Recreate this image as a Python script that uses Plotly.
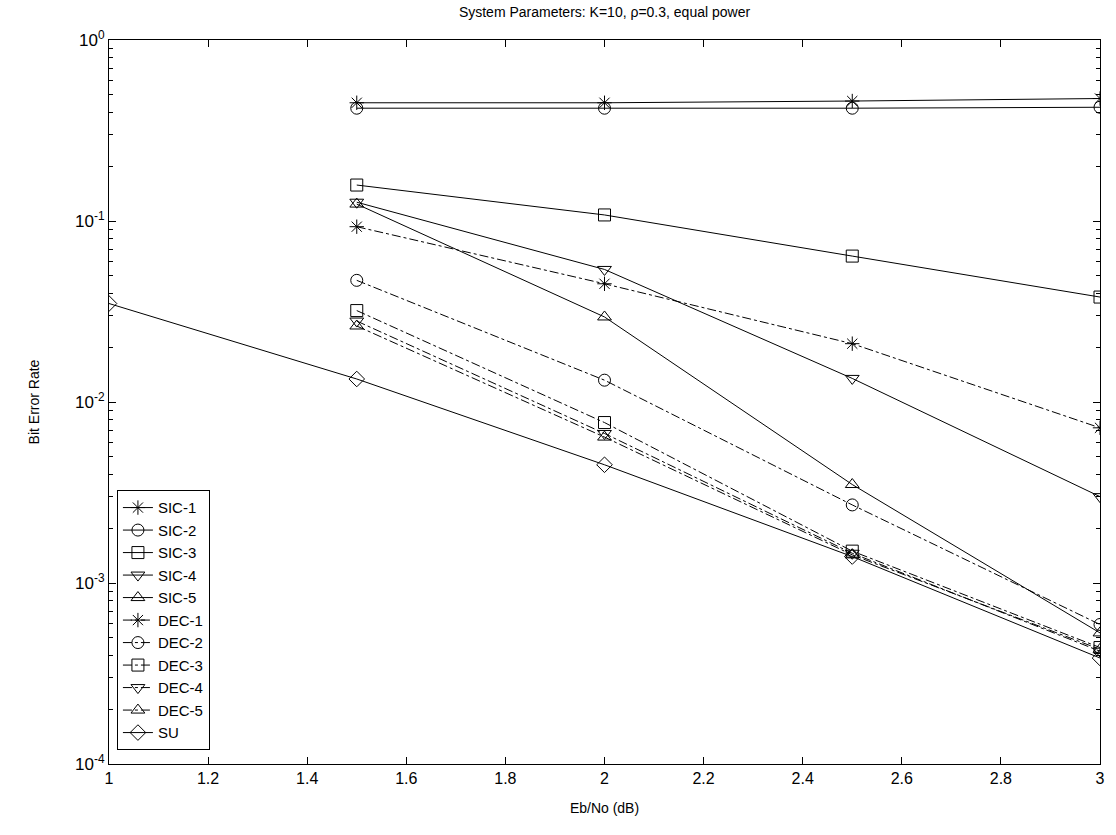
import plotly.graph_objects as go

x = [1.5, 2, 2.5, 3]
sic1 = [0.45, 0.45, 0.46, 0.475]
sic2 = [0.42, 0.42, 0.42, 0.425]
sic3 = [0.158, 0.108, 0.064, 0.038]
sic4 = [0.127, 0.054, 0.0135, 0.0030]
sic5 = [0.124, 0.0295, 0.0035, 0.00053]
dec1 = [0.093, 0.045, 0.021, 0.0072]
dec2 = [0.047, 0.0132, 0.0027, 0.00059]
dec3 = [0.032, 0.0077, 0.00150, 0.00044]
dec4 = [0.028, 0.0067, 0.00146, 0.00042]
dec5 = [0.0263, 0.0064, 0.00143, 0.00043]
su_x = [1, 1.5, 2, 2.5, 3]
su = [0.035, 0.0134, 0.0045, 0.00140, 0.000385]

series = [
    ("SIC-1", x, sic1, "asterisk-open", "solid"),
    ("SIC-2", x, sic2, "circle-open", "solid"),
    ("SIC-3", x, sic3, "square-open", "solid"),
    ("SIC-4", x, sic4, "triangle-down-open", "solid"),
    ("SIC-5", x, sic5, "triangle-up-open", "solid"),
    ("DEC-1", x, dec1, "asterisk-open", "dashdot"),
    ("DEC-2", x, dec2, "circle-open", "dashdot"),
    ("DEC-3", x, dec3, "square-open", "dashdot"),
    ("DEC-4", x, dec4, "triangle-down-open", "dashdot"),
    ("DEC-5", x, dec5, "triangle-up-open", "dashdot"),
    ("SU", su_x, su, "diamond-open", "solid"),
]

fig = go.Figure()
for name, xs, ys, sym, dash in series:
    fig.add_trace(go.Scatter(
        x=xs, y=ys, name=name, mode="lines+markers",
        line=dict(color="black", width=1, dash=dash),
        marker=dict(symbol=sym, size=12, color="black", line=dict(width=1, color="black")),
    ))

font = "Arial, Liberation Sans, sans-serif"
yticks = [1, 0.1, 0.01, 0.001, 0.0001]
ytext = ["10<sup>0</sup>", "10<sup>-1</sup>", "10<sup>-2</sup>", "10<sup>-3</sup>", "10<sup>-4</sup>"]

fig.update_layout(
    width=1116, height=835,
    margin=dict(l=109, r=11, t=40, b=71),
    paper_bgcolor="white", plot_bgcolor="white",
    font=dict(family=font, size=14, color="black"),
    title=dict(text="System Parameters: K=10, ρ=0.3, equal power", x=0.5, xanchor="center",
               xref="paper", y=0.985, yanchor="middle", font=dict(size=14)),
    legend=dict(x=0.008, y=0.378, xanchor="left", yanchor="top",
                bordercolor="black", borderwidth=1, bgcolor="white",
                font=dict(size=15), tracegroupgap=0),
)
fig.update_xaxes(
    range=[1, 3], dtick=0.2, tick0=1, showgrid=False, zeroline=False,
    showline=True, linecolor="black", linewidth=1, mirror="ticks",
    ticks="inside", ticklen=7, tickcolor="black", tickfont=dict(size=16),
    title=dict(text="Eb/No (dB)", font=dict(size=14), standoff=16),
)
fig.update_yaxes(
    type="log", range=[-4, 0], tickvals=yticks, ticktext=ytext,
    showgrid=False, zeroline=False,
    showline=True, linecolor="black", linewidth=1, mirror="ticks",
    ticks="inside", ticklen=7, tickcolor="black", tickfont=dict(size=17),
    minor=dict(ticks="inside", ticklen=4, tickcolor="black", dtick="D1", showgrid=False),
    title=dict(text="Bit Error Rate", font=dict(size=14), standoff=32),
)

fig.write_html("out.html")
